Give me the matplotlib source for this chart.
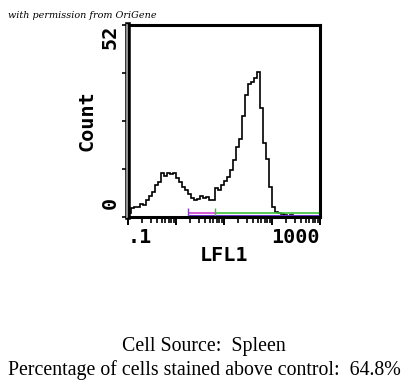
import numpy as np
import matplotlib.pyplot as plt
from matplotlib.lines import Line2D

# histogram counts, 64 log-spaced channels from 0.1 to 1000
counts = [1.2, 2.4, 2.6, 2.8, 3.5, 3.2, 4.6, 5.8, 6.8, 8.6, 9.4, 12.0, 11.2, 11.9, 11.6, 11.8,
          10.6, 9.4, 8.2, 7.3, 6.3, 5.2, 4.5, 5.0, 5.8, 5.2, 5.4, 4.7, 4.5, 7.8, 7.4, 8.6,
          9.8, 10.9, 12.7, 15.5, 19.0, 21.0, 27.4, 33.0, 36.0, 36.6, 37.6, 39.4, 29.5, 20.0,
          15.8, 8.0, 2.8, 1.3, 1.0, 0.7, 0.5, 0.4, 0.5, 0.3, 0.4, 0.3, 0.3, 0.2, 0.3, 0.2, 0.2, 0.3]
x_range = [0.1, 1000]
y_max = 52
y_ticks = [0, 13, 26, 39, 52]
# marker gates
gate_all = [1.78, 1000]
gate_low = [1.78, 6.5]
gate_high = [6.5, 1000]

fig = plt.figure(figsize=(4.08, 3.84), dpi=100)
ax = fig.add_axes([128 / 408, 167 / 384, 192 / 408, 192 / 384])

edges = np.logspace(np.log10(x_range[0]), np.log10(x_range[1]), len(counts) + 1)
ax.stairs(counts, edges, color='k', lw=1.2)

# gate markers along the bottom
ax.hlines(0.4, *gate_all, color='#6a2fd0', lw=1.5, clip_on=False)
ax.hlines(1.1, *gate_low, color='#d040d0', lw=1.2)
ax.hlines(1.1, *gate_high, color='#3cc03c', lw=1.2)
ax.vlines(gate_low[0], 0, 2.4, color='#8040c0', lw=1)
ax.vlines(gate_high[0], 0, 2.4, color='#3cc03c', lw=1)
ax.vlines(gate_high[1], 0, 2.4, color='#3cc03c', lw=1.5, clip_on=False)

ax.set_xscale('log')
ax.set_xlim(*x_range)
ax.set_ylim(0, y_max)

mono = dict(family='DejaVu Sans Mono', weight='bold', size=14.5)

ax.set_yticks(y_ticks)
ax.set_yticklabels(['' for t in y_ticks[:-1]] + [str(y_max)], rotation=90, **mono)
ax.get_yticklabels()[-1].set_va('top')
ax.tick_params(axis='y', direction='out', length=4, width=1.2, pad=2)
# the zero label sits a bit above its tick in the original
ax.annotate('0', xy=(0, 0), xycoords='axes fraction', xytext=(-18, 14.5),
            textcoords='offset pixels', rotation=90, ha='center', va='center', **mono)

ax.set_xticks([0.1, 1, 10, 100, 1000])
ax.set_xticklabels(['.1', '', '', '', '1000'], **mono)
xl = ax.get_xticklabels()
xl[0].set_ha('left')
xl[-1].set_ha('right')
ax.tick_params(axis='x', which='major', direction='out', length=6, width=1.4, pad=2)
ax.tick_params(axis='x', which='minor', direction='out', length=4.5, width=1.2)

ax.set_xlabel('LFL1', labelpad=-1, **mono)
ax.set_ylabel('Count', labelpad=3, **mono)

for s in ax.spines.values():
    s.set_linewidth(2.2)
ax.spines['left'].set_linewidth(4)
ax.add_line(Line2D([-0.004, -0.004], [0, 1], transform=ax.transAxes, color='#b0b0b0',
                   lw=1.2, clip_on=False, zorder=5))

fig.text(8 / 408, 1 - 15 / 384, 'with permission from OriGene', family='DejaVu Serif',
         style='italic', size=6.9, va='center')
fig.text(0.5, 1 - 346 / 384, 'Cell Source:  Spleen', family='Liberation Serif',
         size=14.3, ha='center', va='center')
fig.text(0.5, 1 - 370 / 384, 'Percentage of cells stained above control:  64.8%',
         family='Liberation Serif', size=14.3, ha='center', va='center')

fig.savefig('out.png', dpi=100)
